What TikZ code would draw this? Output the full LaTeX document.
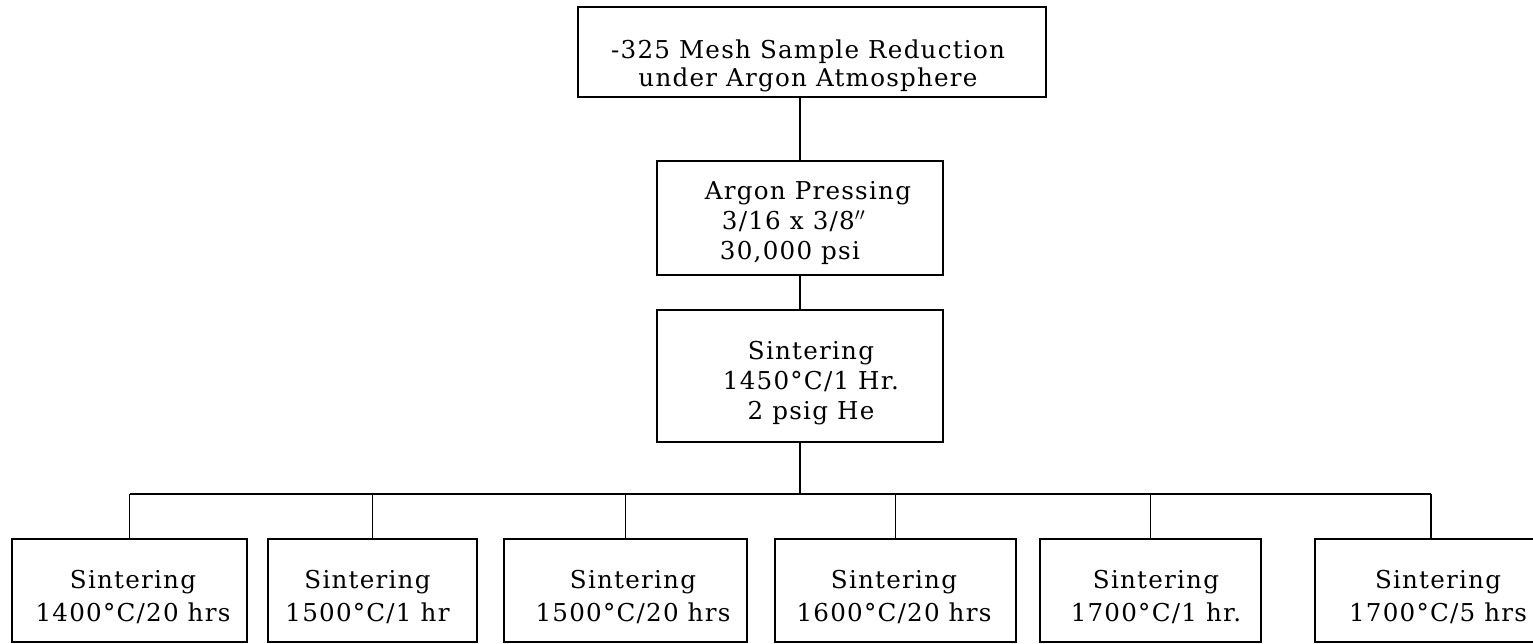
\documentclass[tikz,border=0pt]{standalone}
\usepackage{fontspec}
\setmainfont{DejaVu Serif}[LetterSpace=5]
\begin{document}
\begin{tikzpicture}[x=0.02cm,y=-0.02cm,line width=1pt,
  stepbox/.style={draw,rectangle,inner sep=0pt},
  txt/.style={align=center,inner sep=0pt,font=\fontsize{14}{17}\selectfont},
  lowtxt/.style={align=center,inner sep=0pt,font=\fontsize{14}{18.8}\selectfont}]
\clip (0,0) rectangle (1533,643);

% process chain
\node[stepbox,minimum width=9.36cm,minimum height=1.8cm] (reduce) at (812,52) {};
\node[txt,font=\fontsize{14}{15.6}\selectfont] (reducet) at (808,66) {-325 Mesh Sample Reduction\\under Argon Atmosphere};

\node[stepbox,minimum width=5.72cm,minimum height=2.28cm] (press) at (800,218) {};
\node[txt,align=left] (presst) at (808,223) {Argon Pressing\\\hspace{0.34cm}3/16 x 3/8$''$\\\hspace{0.30cm}30,000 psi};

\node[stepbox,minimum width=5.72cm,minimum height=2.64cm] (sinter) at (800,376) {};
\node[txt] (sintert) at (811,383) {Sintering\\1450°C/1 Hr.\\2 psig He};

% sintering runs
\node[stepbox,minimum width=4.7cm,minimum height=2.06cm] (s1) at (129.5,590.5) {};
\node[stepbox,minimum width=4.18cm,minimum height=2.06cm] (s2) at (372.5,590.5) {};
\node[stepbox,minimum width=4.86cm,minimum height=2.06cm] (s3) at (625.5,590.5) {};
\node[stepbox,minimum width=4.82cm,minimum height=2.06cm] (s4) at (895.5,590.5) {};
\node[stepbox,minimum width=4.42cm,minimum height=2.06cm] (s5) at (1150.5,590.5) {};
\node[stepbox,minimum width=4.64cm,minimum height=2.06cm] (s6) at (1431,590.5) {};

\node[lowtxt] (s1t) at (133,597) {Sintering\\1400°C/20 hrs};
\node[lowtxt] (s2t) at (367.5,597) {Sintering\\1500°C/1 hr};
\node[lowtxt] (s3t) at (633,597) {Sintering\\1500°C/20 hrs};
\node[lowtxt] (s4t) at (894,597) {Sintering\\1600°C/20 hrs};
\node[lowtxt] (s5t) at (1156,597) {Sintering\\1700°C/1 hr.};
\node[lowtxt] (s6t) at (1438,597) {Sintering\\1700°C/5 hrs};

\coordinate (bus) at (800,494);

\draw (press.north) -- (press.north |- reduce.south);
\draw (sinter.north) -- (press.south);
\draw (sinter.south) -- (sinter.south |- bus);
\draw (s1.north |- bus) -- (s6.north |- bus);
\foreach \k in {1,...,6}
  \draw (s\k.north) -- (s\k.north |- bus);
\end{tikzpicture}
\end{document}
